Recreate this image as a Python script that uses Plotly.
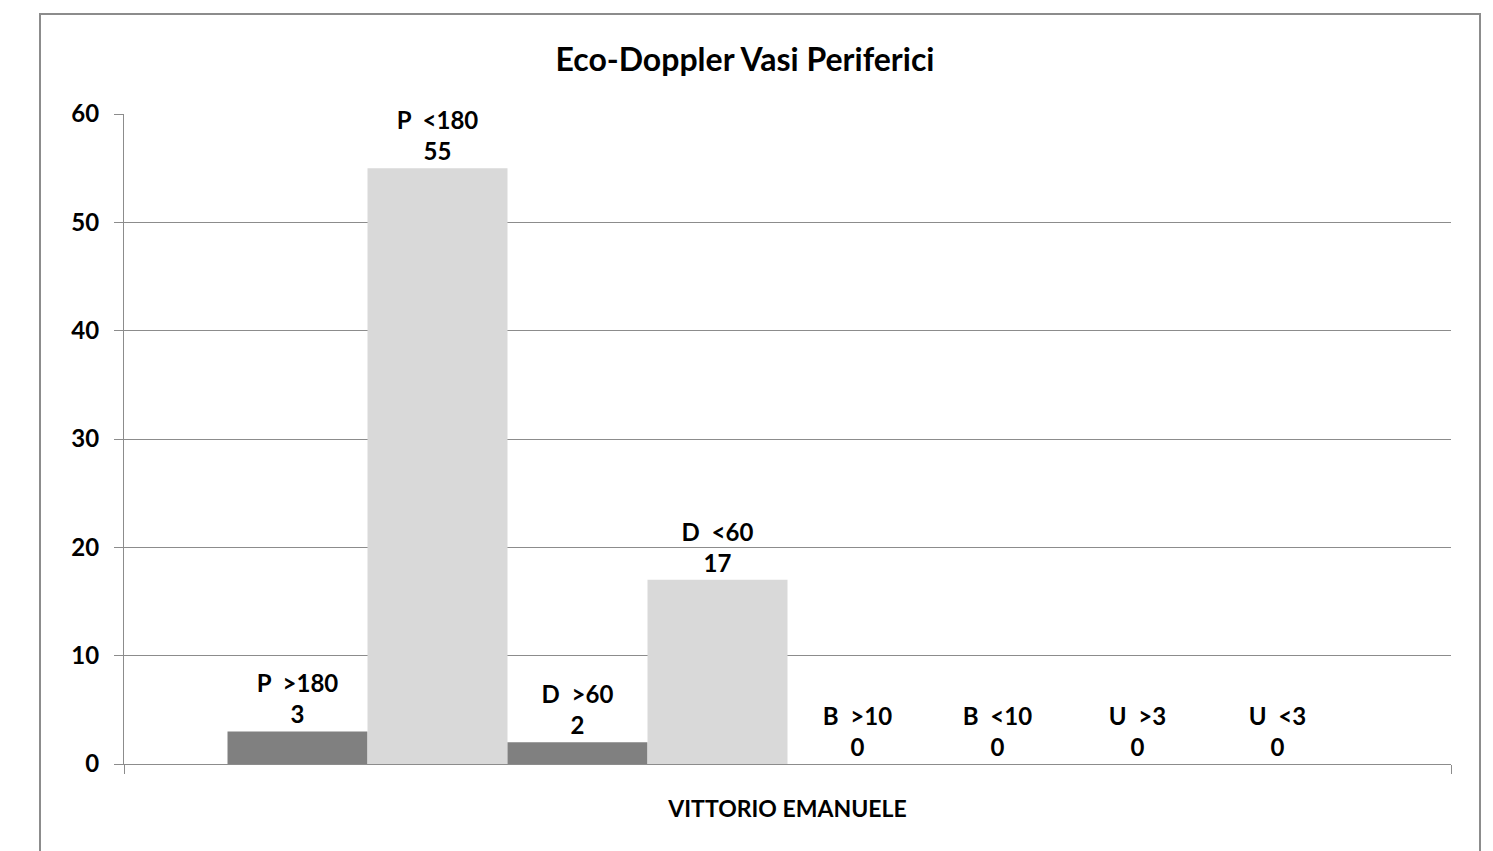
import plotly.graph_objects as go

category = ["VITTORIO EMANUELE"]
series_names = ["P  >180", "P  <180", "D  >60", "D  <60", "B  >10", "B  <10", "U  >3", "U  <3"]
series_values = [3, 55, 2, 17, 0, 0, 0, 0]
series_colors = ["#808080", "#D9D9D9", "#808080", "#D9D9D9", "#808080", "#D9D9D9", "#808080", "#D9D9D9"]

FONT = "Lato"
grid = "#8C8C8C"

fig = go.Figure()

for name, val, col in zip(series_names, series_values, series_colors):
    label = name.replace(" ", "\u00a0") + "<br>" + str(val)
    fig.add_trace(go.Bar(
        x=category, y=[val], name=name,
        marker=dict(color=col, line=dict(width=0)),
        text=[label], textposition="outside", cliponaxis=False,
        textfont=dict(family=FONT, size=24, color="black", weight="bold"),
    ))

# page body adds an 8px offset, margins compensate so the plot area sits at 124..1451 x 114..764
fig.update_layout(
    width=1493, height=851,
    margin=dict(l=116, r=50, t=106, b=95),
    paper_bgcolor="white", plot_bgcolor="white",
    barmode="group", bargap=0.156, bargroupgap=0,
    showlegend=False,
    title=dict(text="Eco-Doppler Vasi Periferici", x=(745 - 8) / 1493, xanchor="center",
               y=1 - 52 / 851, yanchor="middle",
               font=dict(family=FONT, size=32, color="black", weight="bold")),
)

fig.update_yaxes(
    range=[0, 60], dtick=10, showgrid=True, gridcolor=grid, gridwidth=1,
    showline=True, linecolor=grid, linewidth=1,
    ticks="outside", ticklen=9, tickcolor=grid,
    tickfont=dict(family=FONT, size=24, color="black", weight="bold"),
    ticklabelstandoff=10,
    zeroline=False,
)
fig.update_xaxes(
    showline=True, linecolor=grid, linewidth=1,
    ticks="outside", ticklen=9, tickcolor=grid, tickson="boundaries",
    tickfont=dict(family=FONT, size=23, color="black", weight="bold"),
    ticklabelstandoff=24,
    showgrid=False,
)

# outer chart frame
fig.add_shape(type="rect", xref="paper", yref="paper",
              x0=(40 - 124) / 1327, x1=(1480 - 124) / 1327,
              y0=(764 - 870) / 650, y1=(764 - 14) / 650,
              line=dict(color="#8C8C8C", width=2), fillcolor="rgba(0,0,0,0)")

fig.write_html("out.html")
